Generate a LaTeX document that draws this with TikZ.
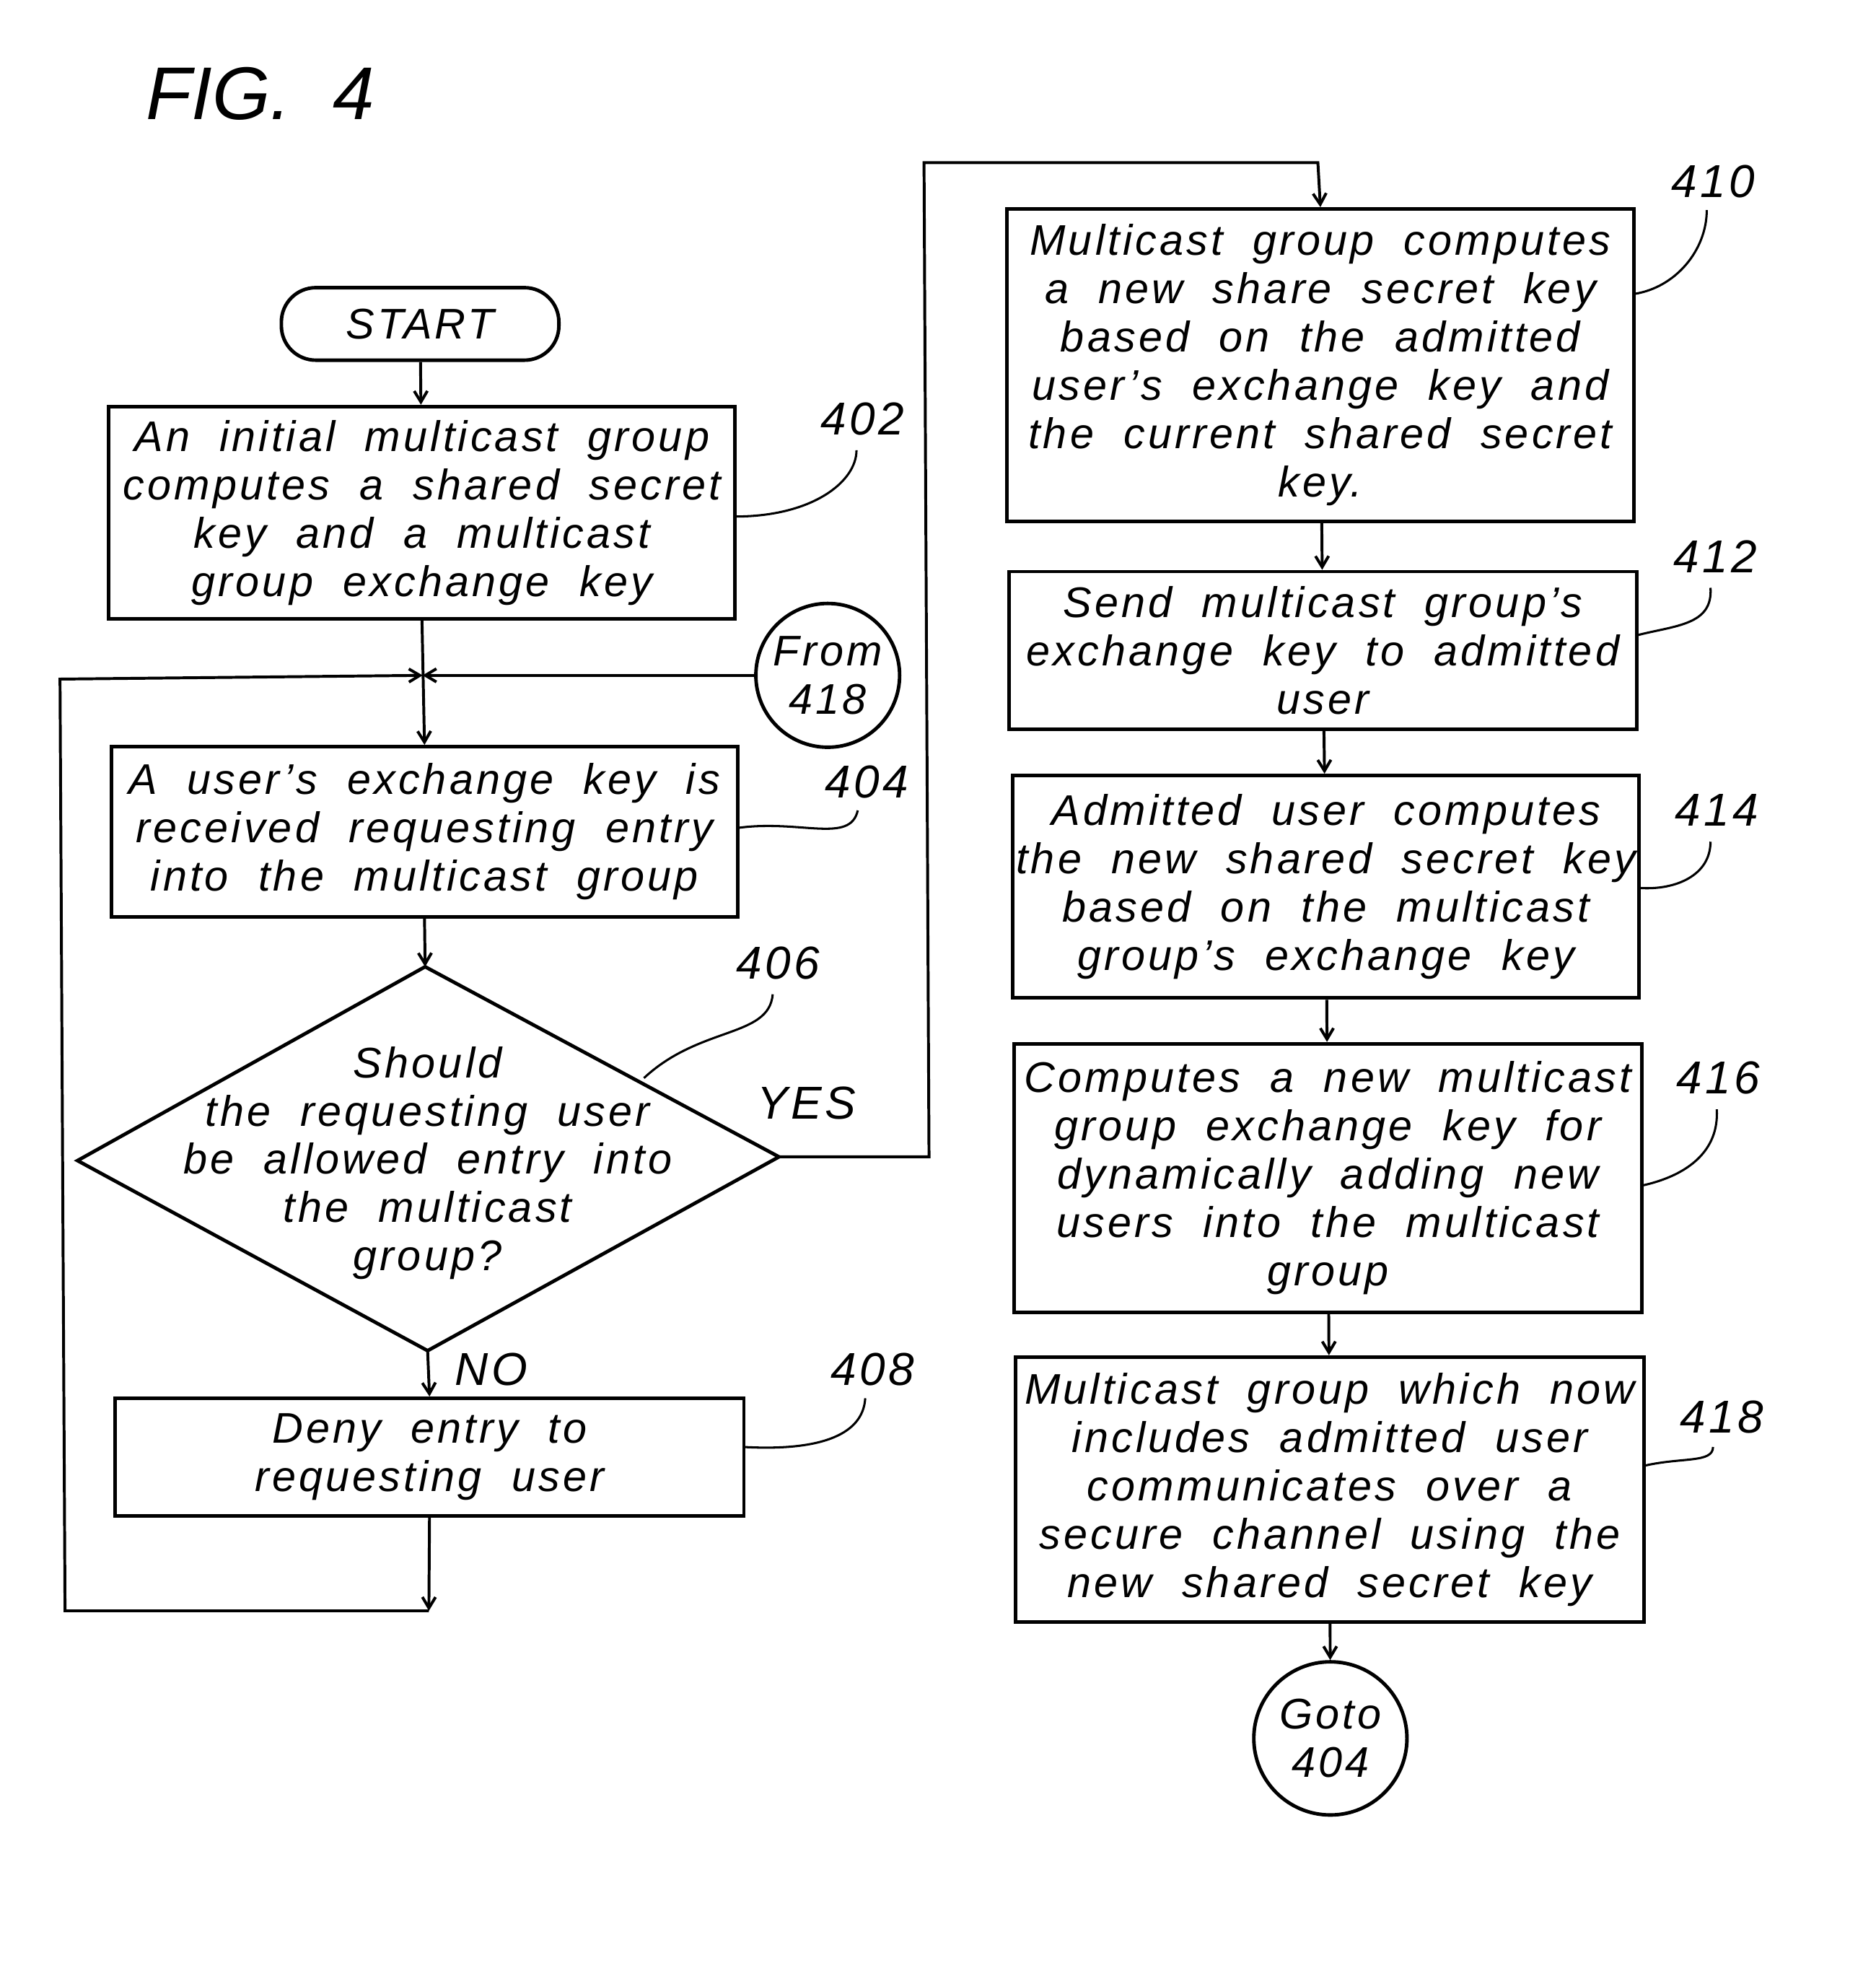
\documentclass[tikz,border=0pt]{standalone}
\usepackage{fontspec}
\setmainfont{Liberation Sans}[LetterSpace=7,WordSpace=2]
\newfontfamily\figfont{Liberation Sans}
\usetikzlibrary{shapes.geometric,arrows.meta}
\begin{document}
\begin{tikzpicture}[x={(0.02cm,0)},y={(0,-0.02cm)},
  every node/.style={font=\itshape\fontsize{19.5}{22}\selectfont},
  box/.style={draw,line width=1.6pt,inner sep=0pt,align=center},
  ln/.style={line width=1.3pt},
  ar/.style={ln,-{Straight Barb[length=5pt,width=6pt]}},
  lead/.style={line width=1pt},
  lbl/.style={font=\itshape\fontsize{21}{24}\selectfont}]
\useasboundingbox (0,0) rectangle (1500,1580);
\node[font=\figfont\itshape\fontsize{34}{38}\selectfont] (fig) at (208,75) {FIG.\ \ 4};
\node[box,rounded corners=0.55cm,minimum width=4.44cm,minimum height=1.16cm] (start) at (336,259) {START};
\node[box,minimum width=10.02cm,minimum height=3.4cm] (b402) at (337.5,410) {An initial multicast group\\computes a shared secret\\key and a multicast\\group exchange key};
\node[box,minimum width=10.02cm,minimum height=2.72cm] (b404) at (339.5,665) {A user's exchange key is\\received requesting entry\\into the multicast group};
\coordinate (dn) at (340,773);
\coordinate (ds) at (342,1080);
\coordinate (dw) at (62,928);
\coordinate (de) at (623,925);
\draw[line width=1.6pt] (dn) -- (de) -- (ds) -- (dw) -- cycle;
\node[align=center] (d406) at (342,930) {Should\\the requesting user\\be allowed entry into\\the multicast\\group?};
\node[box,minimum width=10.06cm,minimum height=1.88cm] (b408) at (343.5,1165) {Deny entry to\\requesting user};
\node[draw,circle,line width=1.6pt,minimum size=2.3cm,inner sep=0pt,align=center] (from) at (662,540) {From\\418};
\node[box,minimum width=10.04cm,minimum height=5cm] (b410) at (1056,292) {Multicast group computes\\a new share secret key\\based on the admitted\\user's exchange key and\\the current shared secret\\key.};
\node[box,minimum width=10.04cm,minimum height=2.52cm] (b412) at (1058,520) {Send multicast group's\\exchange key to admitted\\user};
\node[box,minimum width=10.02cm,minimum height=3.56cm] (b414) at (1060.5,709) {Admitted user computes\\the new shared secret key\\based on the multicast\\group's exchange key};
\node[box,minimum width=10.04cm,minimum height=4.3cm] (b416) at (1062,942) {Computes a new multicast\\group exchange key for\\dynamically adding new\\users into the multicast\\group};
\node[box,minimum width=10.06cm,minimum height=4.24cm] (b418) at (1063.5,1191) {Multicast group which now\\includes admitted user\\communicates over a\\secure channel using the\\new shared secret key};
\node[draw,circle,line width=1.6pt,minimum size=2.45cm,inner sep=0pt,align=center] (goto) at (1064,1390) {Goto\\404};
% labels
\node[lbl] (l402) at (690,335) {402};
\node[lbl] (l404) at (693,625) {404};
\node[lbl] (l406) at (622,770) {406};
\node[lbl] (l408) at (698,1095) {408};
\node[lbl] (l410) at (1370,145) {410};
\node[lbl] (l412) at (1372,445) {412};
\node[lbl] (l414) at (1373,648) {414};
\node[lbl] (l416) at (1374,862) {416};
\node[lbl] (l418) at (1377,1133) {418};
\node[lbl] (yes) at (645,882) {YES};
\node[lbl] (no) at (393,1095) {NO};
% leaders
\draw[lead] (588,413) .. controls (650,413) and (685,385) .. (685,360);
\draw[lead] (590,662) .. controls (640,655) and (680,675) .. (686,648);
\draw[lead] (515,862) .. controls (560,820) and (615,830) .. (618,795);
\draw[lead] (595,1157) .. controls (650,1160) and (690,1150) .. (692,1118);
\draw[lead] (1307,235) .. controls (1340,230) and (1365,200) .. (1365,168);
\draw[lead] (1309,508) .. controls (1340,500) and (1370,500) .. (1368,470);
\draw[lead] (1311,710) .. controls (1340,712) and (1368,700) .. (1368,673);
\draw[lead] (1313,948) .. controls (1350,940) and (1375,920) .. (1373,887);
\draw[lead] (1315,1172) .. controls (1345,1165) and (1370,1170) .. (1370,1157);
% connectors
\coordinate (j) at (338,540);
\draw[ar] (start) -- (b402);
\draw[ar] (b402.south) -- (b404.north);
\draw[ar] (from.west) -- (j);
\draw[ar] (b404.south) -- (dn);
\draw[ar] (ds) -- (b408.north);
\coordinate (bot) at (343,1288);
\draw[ar] (b408.south) -- (bot);
\draw[ar] (bot) -- (52,1288) -- (48,543) -- (j);
\draw[ar] (de) -- (743,925) -- (739,130) -- (1054,130) -- (b410.north);
\draw[ar] (b410) -- (b412);
\draw[ar] (b412) -- (b414);
\draw[ar] (b414) -- (b416);
\draw[ar] (b416) -- (b418);
\draw[ar] (b418) -- (goto);
\end{tikzpicture}
\end{document}
